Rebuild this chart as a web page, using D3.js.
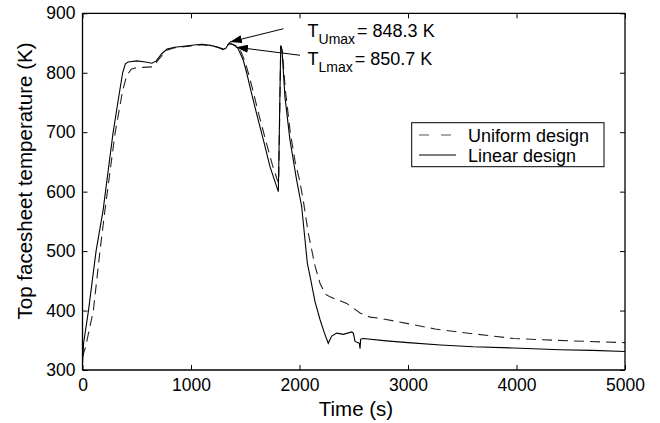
<!DOCTYPE html>
<html><head><meta charset="utf-8">
<script src="https://cdn.jsdelivr.net/npm/d3@7"></script>
<style>
body{margin:0;background:#fff;}
svg{display:block;font-family:"Liberation Sans",Arial,Helvetica,sans-serif;}
</style></head>
<body><svg id="chart" width="660" height="423"></svg>
<script>
// ---- data ----
const xTicks = [0, 1000, 2000, 3000, 4000, 5000];
const yTicks = [300, 400, 500, 600, 700, 800, 900];
const seriesNames = ["Uniform design", "Linear design"];
const uniformData = [[0,322],[30,340],[100,400],[161,500],[207,569],[300,698],[370,770],[407,795],[450,806],[484,808],[560,809],[650,810],[700,822],[776,838],[850,842],[1000,845],[1100,847],[1200,845],[1280,841],[1310,840],[1345,848.3],[1380,848],[1420,845],[1455,838],[1500,818],[1535,795],[1565,774],[1625,730],[1690,685],[1750,645],[1795,620],[1808,615],[1827,845],[1842,835],[1870,770],[1915,700],[1960,650],[2000,620],[2035,585],[2081,530],[2143,475],[2189,446],[2235,428],[2281,423],[2435,412],[2558,396],[2650,389],[2742,387],[3000,378],[3250,369],[3500,363],[3971,353],[4500,349],[5000,346]];
const linearData = [[0,310],[10,345],[55,400],[125,500],[190,569],[240,640],[281,698],[330,755],[370,800],[395,815],[420,818],[500,820],[580,818],[640,816],[680,820],[730,832],[780,840],[850,843],[950,845],[1050,847],[1100,848],[1180,846],[1250,843],[1295,839],[1320,841],[1355,850.7],[1400,846],[1433,841],[1482,821],[1513,800],[1544,776],[1605,731],[1667,687],[1728,642],[1790,608],[1805,600],[1814,700],[1827,846],[1839,838],[1866,759],[1912,687],[1974,619],[2020,575],[2072,480],[2100,455],[2143,415],[2189,385],[2230,362],[2265,345],[2297,357],[2343,362],[2404,360],[2481,364],[2496,362],[2512,348],[2551,345],[2558,336],[2564,352],[2588,353],[2800,349],[3000,346],[3300,342],[3600,339],[3971,337],[4400,334],[4700,333],[5000,331]];
// annotations: [tailX, tailY, tipX, tipY] in data units, text anchor
const annSub = ["Umax", "Lmax"];
const annValue = ["= 848.3 K", "= 850.7 K"];
const annArrow = [[1851,874,1359,851.8],[2005,829.4,1415,843]];
const annText = [[2074,859.7],[2074,812.6]];

// ---- layout ----
const svg = d3.select("#chart");
const L = 82.5, R = 625, T = 13.3, B = 370;
const x = d3.scaleLinear().domain([0,5000]).range([L,R]);
const y = d3.scaleLinear().domain([300,900]).range([B,T]);

svg.append("defs").append("marker")
  .attr("id","ah").attr("viewBox","0 0 12 8").attr("refX",12).attr("refY",4)
  .attr("markerWidth",12).attr("markerHeight",8).attr("markerUnits","userSpaceOnUse")
  .attr("orient","auto")
  .append("path").attr("d","M0,0L12,4L0,8Z").attr("fill","#000");

// curves
const line = d3.line().x(d=>x(d[0])).y(d=>y(d[1]));
svg.append("path").datum(uniformData).attr("d",line)
  .attr("fill","none").attr("stroke","#222").attr("stroke-width",1.1).attr("stroke-dasharray","10,6");
svg.append("path").datum(linearData).attr("d",line)
  .attr("fill","none").attr("stroke","#000").attr("stroke-width",1.1);

// axes
const tickFont = "17.5px";
const axB = svg.append("g").attr("transform",`translate(0,${B})`)
  .call(d3.axisBottom(x).tickValues(xTicks).tickSize(-5).tickPadding(9).tickFormat(d3.format("d")));
const axT = svg.append("g").attr("transform",`translate(0,${T})`)
  .call(d3.axisTop(x).tickValues(xTicks).tickSize(-5).tickFormat(""));
const axL = svg.append("g").attr("transform",`translate(${L},0)`)
  .call(d3.axisLeft(y).tickValues(yTicks).tickSize(-5).tickPadding(7).tickFormat(d3.format("d")));
const axR = svg.append("g").attr("transform",`translate(${R},0)`)
  .call(d3.axisRight(y).tickValues(yTicks).tickSize(-5).tickFormat(""));
[axB,axT,axL,axR].forEach(g=>{
  g.selectAll(".domain").attr("stroke","#000").attr("stroke-width",1.3);
  g.selectAll(".tick line").attr("stroke","#000").attr("stroke-width",1);
  g.selectAll("text").attr("font-size",tickFont).attr("fill","#000")
   .attr("font-family","Liberation Sans, Arial, sans-serif");
});
axB.selectAll(".domain").attr("d",`M${L},0H${R}`);
axT.selectAll(".domain").attr("d",`M${L},0H${R}`);
axL.selectAll(".domain").attr("d",`M0,${T}V${B}`);
axR.selectAll(".domain").attr("d",`M0,${T}V${B}`);

// axis titles
svg.append("text").attr("x",356).attr("y",416).attr("text-anchor","middle")
  .attr("font-size","20.5px").text("Time (s)");
svg.append("text").attr("transform","translate(31.5,181) rotate(-90)")
  .attr("text-anchor","middle").attr("font-size","20.5px").text("Top facesheet temperature (K)");

// annotations
annArrow.forEach(a=>{
  svg.append("line").attr("x1",x(a[0])).attr("y1",y(a[1])).attr("x2",x(a[2])).attr("y2",y(a[3]))
    .attr("stroke","#000").attr("stroke-width",1).attr("marker-end","url(#ah)");
});
annText.forEach((p,i)=>{
  const t = svg.append("text").attr("x",x(p[0])).attr("y",y(p[1])).attr("font-size","18px");
  t.append("tspan").text("T");
  t.append("tspan").attr("font-size","14px").attr("dy",6.5).text(annSub[i]);
  t.append("tspan").attr("dy",-6.5).attr("dx",2).text(annValue[i]);
});

// legend
const lg = svg.append("g");
lg.append("rect").attr("x",411.7).attr("y",122.7).attr("width",192.3).attr("height",44)
  .attr("fill","#fff").attr("stroke","#000").attr("stroke-width",1);
const dashes = ["10,12", null];
seriesNames.forEach((n,i)=>{
  const yy = 135 + i*20;
  const l = lg.append("line").attr("x1",419).attr("x2",456).attr("y1",yy).attr("y2",yy)
    .attr("stroke", i===0 ? "#555" : "#000").attr("stroke-width",1);
  if (dashes[i]) l.attr("stroke-dasharray",dashes[i]);
  lg.append("text").attr("x",468).attr("y",yy+6.5).attr("font-size","18px").text(n);
});
</script></body></html>
